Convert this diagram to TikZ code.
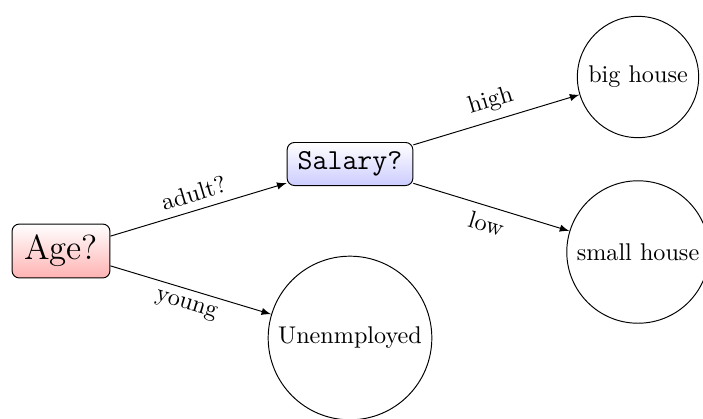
\documentclass[tikz,border=0pt]{standalone}
\usetikzlibrary{shadings}
\begin{document}
\begin{tikzpicture}[x=0.4137pt,y=-0.4137pt,
  decision/.style={draw,rounded corners=3pt,top color=white},
  leafnode/.style={draw,circle},
  edgearrow/.style={-latex}]
\useasboundingbox (0,0) rectangle (703,418);
\clip (0,0) rectangle (703,418);
\node[decision,bottom color=red!30,minimum width=40.5pt,minimum height=22.3pt] (age) at (61,251) {\Large Age?};
\node[decision,bottom color=blue!20,minimum width=52pt,minimum height=17.8pt] (salary) at (350,164) {\large\ttfamily Salary?};
\node[leafnode] (unemp) at (350,338) {Unenmployed};
\node[leafnode] (big) at (638,77) {big house};
\node[leafnode] (small) at (638,252) {small house};
\draw[edgearrow] (age) -- node[above,sloped] {adult?} (salary);
\draw[edgearrow] (age) -- node[below,sloped] {young} (unemp);
\draw[edgearrow] (salary) -- node[above,sloped] {high} (big);
\draw[edgearrow] (salary) -- node[below,sloped] {low} (small);
\end{tikzpicture}
\end{document}
